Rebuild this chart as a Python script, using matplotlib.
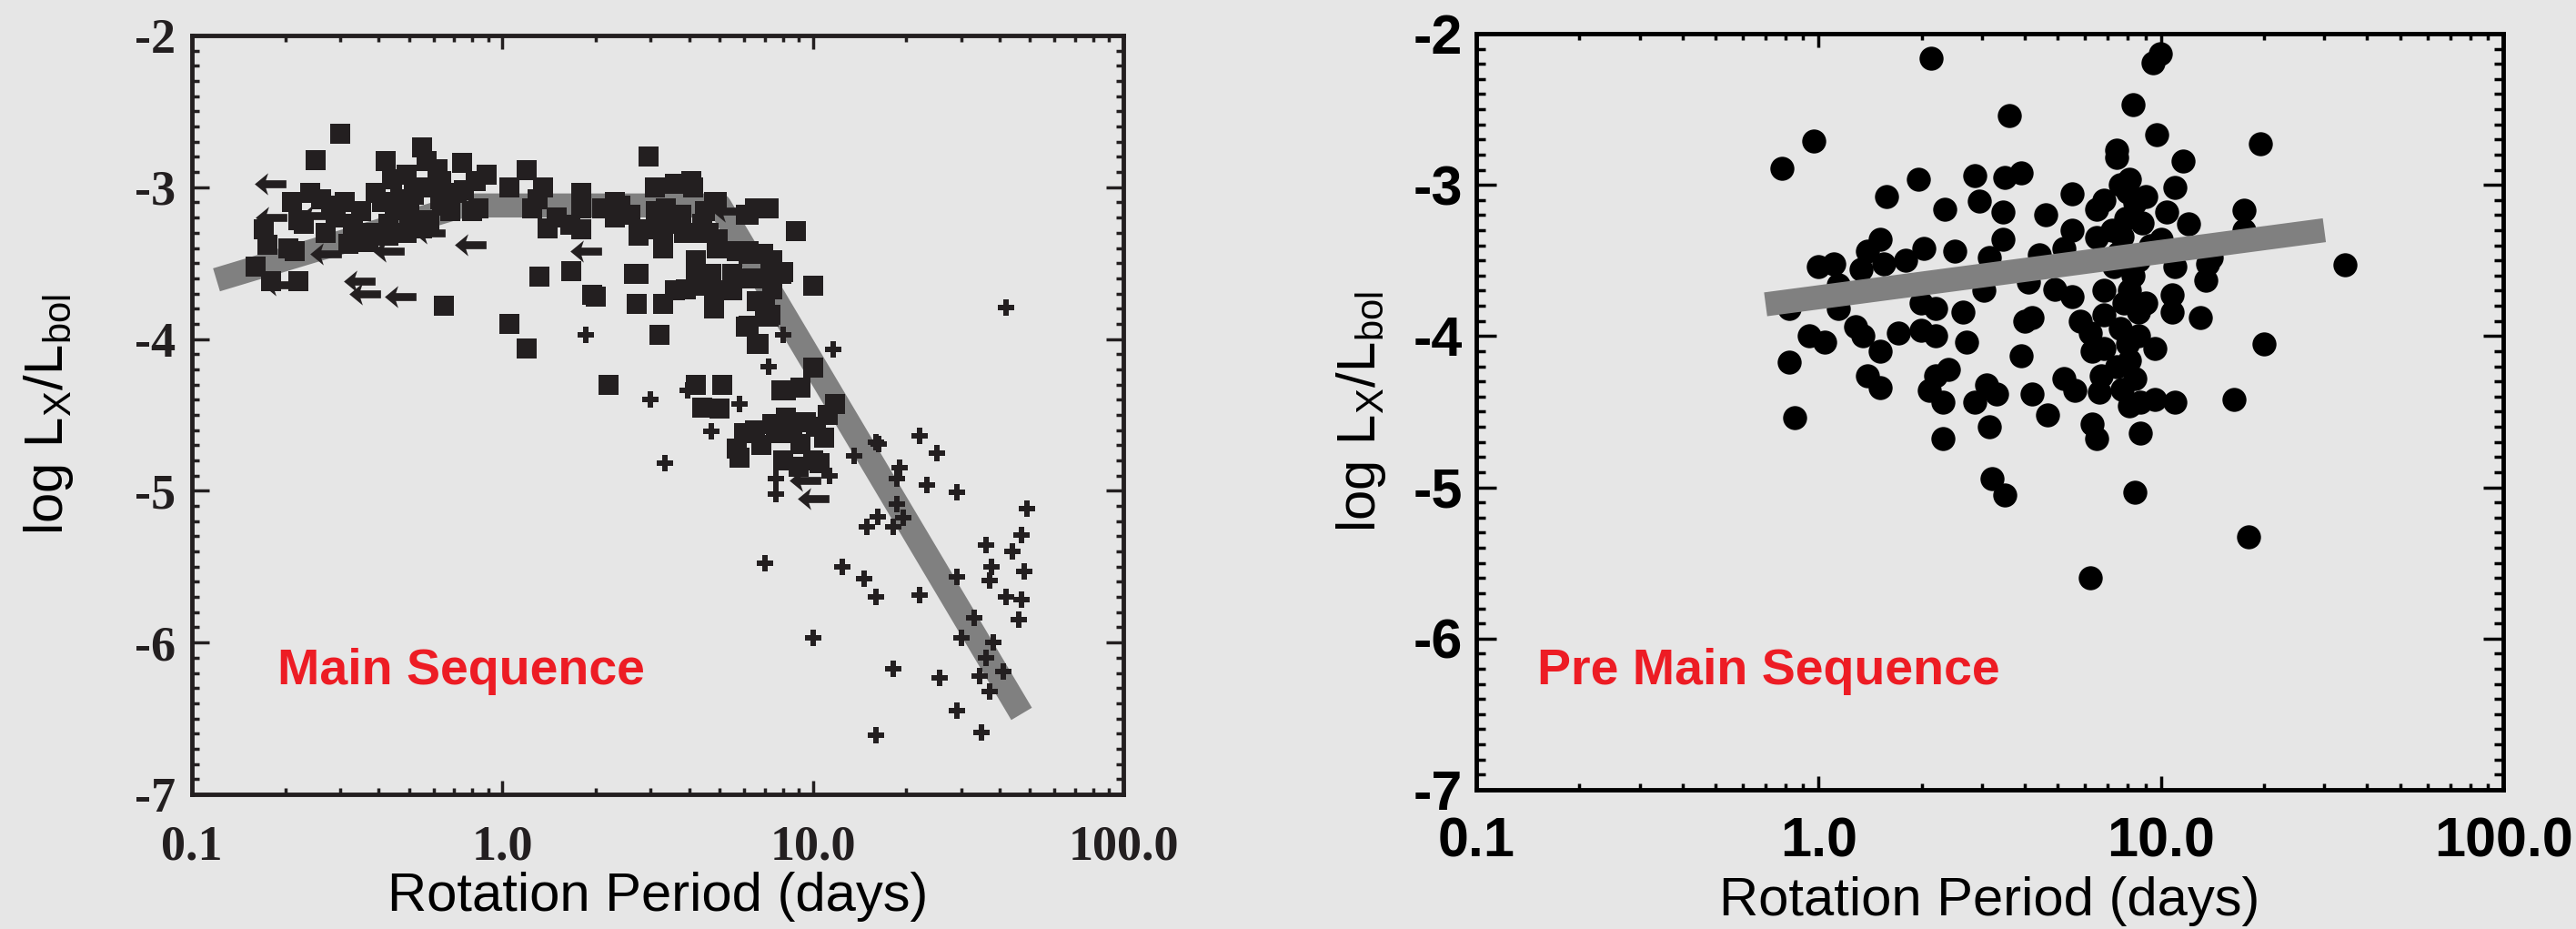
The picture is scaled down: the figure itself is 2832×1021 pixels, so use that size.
import numpy as np
import matplotlib.pyplot as plt
from matplotlib.path import Path
from matplotlib.ticker import LogLocator, MultipleLocator, NullFormatter

plt.rcParams['mathtext.fontset'] = 'custom'
plt.rcParams['mathtext.rm'] = 'Liberation Sans'

# main sequence: detections (squares), other stars (+), upper limits (arrows)
ms_squares = [
    (0.30, -2.65), (0.25, -2.82), (0.42, -2.83), (0.55, -2.74), (0.57, -2.83), (0.74, -2.84),
    (0.89, -2.92), (1.2, -2.89), (2.96, -2.80), (3.1, -3.0), (3.6, -2.98), (4.1, -3.0),
    (4.9, -3.1), (6.1, -3.18), (8.8, -3.29), (0.24, -3.04), (0.21, -3.10), (0.28, -3.12),
    (0.41, -3.10), (0.47, -3.08), (0.54, -3.0), (0.63, -3.08), (0.75, -3.02), (0.84, -3.14),
    (1.05, -3.0), (1.35, -3.0), (1.3, -3.08), (1.8, -3.04), (1.8, -3.14), (2.4, -3.12),
    (2.58, -3.18), (3.35, -3.14), (3.76, -3.18), (4.5, -3.16), (3.1, -3.28), (2.75, -3.32),
    (3.3, -3.40), (3.84, -3.30), (4.6, -3.30), (4.9, -3.40), (4.2, -3.48), (4.7, -3.57),
    (4.3, -3.65), (3.6, -3.68), (3.3, -3.77), (2.7, -3.77), (2.65, -3.57), (2.0, -3.72),
    (1.67, -3.55), (1.32, -3.59), (1.05, -3.90), (1.2, -4.06), (0.65, -3.78), (3.2, -3.97),
    (2.2, -4.30), (5.9, -3.60), (5.5, -3.68), (6.2, -3.42), (6.9, -3.44), (7.3, -3.57),
    (8.0, -3.56), (7.4, -3.65), (7.0, -3.80), (7.3, -3.84), (6.1, -3.92), (6.7, -4.03),
    (6.5, -3.14), (7.2, -3.14), (4.4, -3.24), (3.5, -3.24), (2.3, -3.10), (1.65, -3.25),
    (1.5, -3.20), (1.25, -3.14), (0.58, -3.22), (0.49, -3.30), (0.43, -3.24), (0.37, -3.30),
    (0.37, -3.36), (0.33, -3.24), (0.29, -3.20), (0.23, -3.24), (0.17, -3.28), (0.175, -3.38),
    (0.205, -3.40), (0.16, -3.52), (0.18, -3.62), (0.22, -3.62), (0.64, -3.12), (0.71, -3.04),
    (0.80, -3.16), (0.5, -3.18), (4.05, -2.96), (0.82, -2.96), (0.635, -2.96), (0.49, -2.92),
    (0.43, -3.32), (0.33, -3.28), (0.22, -3.22), (0.215, -3.42), (0.32, -3.37), (1.94, -3.71),
    (1.4, -3.27), (1.79, -3.28), (2.1, -3.14), (2.3, -3.2), (2.75, -3.28), (3.12, -3.16),
    (3.3, -3.34), (4.8, -3.10), (4.4, -3.30), (4.95, -3.34), (6.2, -3.18), (2.75, -3.57),
    (3.9, -3.67), (4.2, -3.57), (4.8, -3.68), (4.8, -3.80), (5.5, -3.57), (5.7, -3.42),
    (6.2, -3.44), (7.4, -3.48), (6.7, -3.60), (7.9, -3.57), (7.4, -3.67), (6.6, -3.75),
    (7.2, -3.85), (6.2, -3.91), (6.6, -4.03), (10.0, -3.65), (10.0, -4.19),
    (0.26, -3.08), (0.35, -3.16), (0.45, -3.15), (0.52, -3.05), (0.60, -3.0), (0.68, -3.16),
    (0.39, -3.04), (0.31, -3.10), (0.27, -3.30), (0.55, -3.27), (0.44, -2.95), (0.62, -2.88),
    (4.2, -4.30), (5.1, -4.30), (4.4, -4.45), (5.0, -4.46), (5.7, -4.72), (6.5, -4.60),
    (7.4, -4.56), (7.9, -4.34), (8.2, -4.52), (9.1, -4.69), (10.9, -4.65), (11.8, -4.43),
    (10.0, -4.8), (5.8, -4.78), (8.0, -4.80), (9.0, -4.84), (10.5, -4.82), (6.0, -4.62),
    (6.8, -4.7), (7.6, -4.62), (8.6, -4.62), (9.5, -4.55), (10.2, -4.58), (11.2, -4.5),
    (8.2, -4.34), (9.1, -4.32),
]
ms_crosses = [
    (3.33, -4.82), (7.6, -5.02), (7.6, -4.92), (11.3, -4.90), (18.7, -4.92), (23.3, -4.96),
    (29, -5.01), (18.7, -5.09), (16.2, -5.17), (19.5, -5.18), (14.9, -5.24), (18.1, -5.24),
    (36, -5.36), (7.0, -5.48), (12.4, -5.50), (14.6, -5.58), (29, -5.57), (37.5, -5.50),
    (37, -5.59), (16, -5.70), (22, -5.69), (10, -5.97), (33, -5.84), (30, -5.97),
    (38, -6.00), (18.2, -6.17), (25.6, -6.23), (34.5, -6.22), (29, -6.45), (16, -6.61),
    (35, -6.59), (42, -3.79), (49, -5.12), (47, -5.29), (44, -5.40), (48, -5.53),
    (42, -5.70), (47, -5.72), (46, -5.85), (36, -6.1), (41, -6.19), (37, -6.32),
    (13.6, -4.77), (16.3, -4.69), (22, -4.64), (25, -4.75), (19, -4.85), (3.0, -4.40),
    (3.95, -4.34), (4.7, -4.61), (5.8, -4.43), (1.86, -3.97), (7.2, -4.18), (11.6, -4.07),
    (8.0, -3.97), (16, -4.68),
]
ms_limits = [
    (0.179, -2.98), (0.18, -3.20), (0.25, -3.19), (0.19, -3.64), (0.346, -3.62), (0.36, -3.70),
    (0.47, -3.72), (0.43, -3.42), (0.27, -3.44), (0.79, -3.38), (0.58, -3.30), (1.86, -3.42),
    (5.3, -3.16), (10, -5.05), (9.4, -4.93),
]
ms_fit_p = [0.12, 0.75, 5.0, 47]
ms_fit_l = [-3.61, -3.12, -3.12, -6.47]

# pre main sequence
pms_points = [
    (2.13, -2.16), (9.95, -2.13), (9.5, -2.19), (8.3, -2.47), (3.6, -2.54), (0.97, -2.71),
    (9.7, -2.67), (19.5, -2.73), (0.78, -2.89), (7.4, -2.77), (11.6, -2.84), (1.95, -2.96),
    (2.85, -2.94), (3.5, -2.95), (3.9, -2.92), (7.4, -2.82), (8.1, -2.96), (11.0, -3.02),
    (1.58, -3.08), (2.34, -3.16), (2.95, -3.11), (3.45, -3.18), (5.5, -3.06), (4.6, -3.20),
    (6.5, -3.16), (6.8, -3.10), (9.0, -3.08), (10.4, -3.18), (17.5, -3.17), (12.0, -3.26),
    (3.45, -3.36), (5.5, -3.30), (6.5, -3.35), (7.7, -3.34), (10.0, -3.36), (17.5, -3.30),
    (1.51, -3.36), (1.39, -3.44), (2.03, -3.42), (2.5, -3.44), (1.79, -3.50), (1.55, -3.52),
    (1.0, -3.54), (1.11, -3.52), (1.33, -3.56), (3.16, -3.48), (4.4, -3.46), (5.2, -3.42),
    (13.7, -3.52), (14.0, -3.48), (34.5, -3.53), (11.0, -3.54), (8.6, -3.50), (7.3, -3.54),
    (4.1, -3.64), (3.04, -3.70), (4.9, -3.69), (13.5, -3.63), (6.8, -3.70), (8.1, -3.70),
    (1.14, -3.66), (0.82, -3.82), (1.14, -3.82), (1.99, -3.78), (2.2, -3.82), (2.64, -3.84),
    (4.2, -3.88), (5.5, -3.74), (5.8, -3.90), (6.8, -3.86), (9.0, -3.78), (10.8, -3.73),
    (10.8, -3.84), (13.0, -3.88), (20.0, -4.05), (0.94, -4.00), (1.04, -4.04), (1.28, -3.94),
    (1.35, -4.00), (1.71, -3.98), (1.99, -3.96), (2.2, -4.00), (2.7, -4.04), (4.0, -3.90),
    (3.9, -4.13), (6.2, -3.98), (6.3, -4.10), (6.8, -4.08), (8.6, -4.00), (9.6, -4.08),
    (8.1, -4.16), (0.82, -4.17), (1.51, -4.10), (1.39, -4.26), (1.51, -4.34), (2.2, -4.26),
    (2.4, -4.22), (2.1, -4.36), (2.3, -4.44), (2.85, -4.44), (3.1, -4.32), (3.3, -4.38),
    (4.2, -4.38), (5.2, -4.28), (5.6, -4.36), (6.6, -4.37), (6.7, -4.26), (8.1, -4.46),
    (8.7, -4.44), (9.6, -4.42), (11.0, -4.44), (16.3, -4.42), (0.85, -4.54), (2.3, -4.68),
    (3.15, -4.60), (4.65, -4.52), (6.3, -4.58), (6.5, -4.68), (8.7, -4.64), (3.2, -4.94),
    (3.5, -5.05), (8.4, -5.03), (18.0, -5.33), (6.2, -5.60),
    (7.6, -3.0), (8.0, -3.05), (8.4, -3.12), (7.9, -3.22), (8.8, -3.25), (7.5, -3.45),
    (8.3, -3.6), (7.8, -3.78), (8.6, -3.84), (7.6, -3.95), (8.0, -4.05), (7.4, -4.2),
    (8.4, -4.28), (7.7, -4.35), (9.3, -3.4), (7.2, -3.3),
]
pms_fit_p = [0.7, 30]
pms_fit_l = [-3.79, -3.30]

xticks = [0.1, 1, 10, 100]
xtick_labels = ['0.1', '1.0', '10.0', '100.0']
yticks = [-7, -6, -5, -4, -3, -2]
ytick_labels = ['-7', '-6', '-5', '-4', '-3', '-2']

bg = '#e6e6e6'
fig = plt.figure(figsize=(28.32, 10.21), dpi=100, facecolor=bg)
ax1 = fig.add_axes([0.0745, 0.1450, 0.3616, 0.8168])
ax2 = fig.add_axes([0.5731, 0.1499, 0.3987, 0.8139])

# left-pointing arrow marker for the upper limits
arrow = Path([(-1, 0), (-0.15, 0.7), (-0.3, 0.25), (1, 0.25), (1, -0.25), (-0.3, -0.25), (-0.15, -0.7), (-1, 0)],
             [Path.MOVETO] + [Path.LINETO] * 6 + [Path.CLOSEPOLY])


def style(ax, col, tfont, tsize, xpad, ypad, ymaj, ymin):
    ax.set_xscale('log')
    ax.set_xlim(0.1, 100)
    ax.set_ylim(-7, -2)
    ax.set_facecolor(bg)
    for s in ax.spines.values():
        s.set_linewidth(3.5)
        s.set_color(col)
    ax.set_xticks(xticks, xtick_labels, family=tfont, fontweight='bold', fontsize=tsize)
    ax.set_yticks(yticks, ytick_labels, family=tfont, fontweight='bold', fontsize=tsize)
    ax.xaxis.set_minor_locator(LogLocator(base=10, subs=np.arange(2, 10)))
    ax.xaxis.set_minor_formatter(NullFormatter())
    ax.yaxis.set_minor_locator(MultipleLocator(0.1))
    ax.tick_params(which='both', direction='in', top=True, right=True, color=col, labelcolor=col, width=2.5)
    ax.tick_params(axis='x', which='major', length=11, pad=xpad)
    ax.tick_params(axis='x', which='minor', length=5)
    ax.tick_params(axis='y', which='major', length=ymaj, pad=ypad)
    ax.tick_params(axis='y', which='minor', length=ymin)


# left: main sequence
c1 = '#231f20'
p, l = np.array(ms_squares).T
ax1.plot(ms_fit_p, ms_fit_l, color='#808080', lw=19, solid_capstyle='butt', solid_joinstyle='round', zorder=1)
ax1.plot(p, l, 's', ms=16, color=c1, mew=0, zorder=3)
p, l = np.array(ms_crosses).T
ax1.plot(p, l, 'P', ms=13, color=c1, mew=0, zorder=3)
p, l = np.array(ms_limits).T
ax1.plot(p, l, marker=arrow, ls='none', ms=25, color=c1, mew=0, zorder=3)
style(ax1, c1, 'Liberation Serif', 39, 24, 13, 14, 6)
ax1.set_xlabel('Rotation Period (days)', family='Liberation Sans', fontsize=43, color='black')
ax1.xaxis.set_label_coords(0.5, -0.102)
ax1.set_ylabel(r'log L$_\mathrm{X}$/L$_\mathrm{bol}$', family='Liberation Sans', fontsize=43, color='black')
ax1.yaxis.set_label_coords(-0.125, 0.5)
ax1.text(0.092, 0.145, 'Main Sequence', transform=ax1.transAxes, color='#ed1c24',
         fontsize=40, fontweight='bold', family='Liberation Sans', va='baseline')

# right: pre main sequence
p, l = np.array(pms_points).T
ax2.plot(p, l, 'o', ms=19, color='black', mew=0, zorder=2)
ax2.plot(pms_fit_p, pms_fit_l, color='#808080', lw=19, solid_capstyle='butt', zorder=3)
style(ax2, 'black', 'Liberation Sans', 44, 21, 11, 16, 7)
ax2.set_xlabel('Rotation Period (days)', family='Liberation Sans', fontsize=43, color='black')
ax2.xaxis.set_label_coords(0.5, -0.114)
ax2.set_ylabel(r'log L$_\mathrm{X}$/L$_\mathrm{bol}$', family='Liberation Sans', fontsize=43, color='black')
ax2.yaxis.set_label_coords(-0.086, 0.5)
ax2.text(0.059, 0.140, 'Pre Main Sequence', transform=ax2.transAxes, color='#ed1c24',
         fontsize=40, fontweight='bold', family='Liberation Sans', va='baseline')

plt.savefig('out.png', dpi=100, facecolor=bg)
